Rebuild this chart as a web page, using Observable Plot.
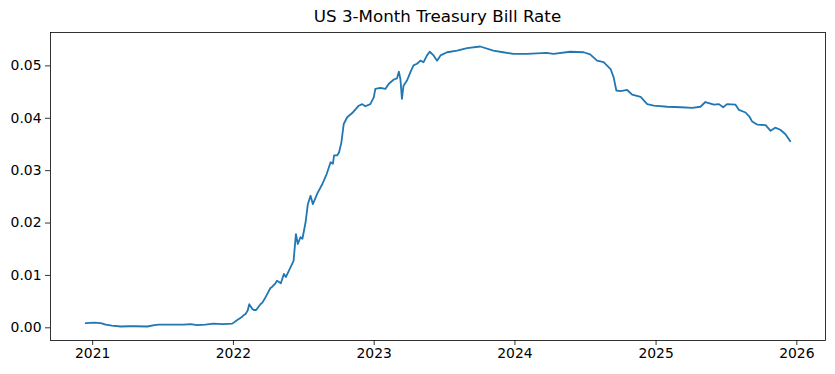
<!DOCTYPE html>
<html>
<head>
<meta charset="utf-8">
<script src="https://cdn.jsdelivr.net/npm/d3@7"></script>
<script src="https://cdn.jsdelivr.net/npm/@observablehq/plot@0.6"></script>
<style>
  html, body { margin: 0; padding: 0; background: #fff; }
  #wrap { width: 835px; height: 374px; position: relative; font-family: "DejaVu Sans", sans-serif; }
  #title { position: absolute; left: 50px; width: 775px; top: 6px; text-align: center; font-size: 16.7px; color: #000; line-height: 20px; }
  #chart { position: absolute; left: 0; top: 28px; }
</style>
</head>
<body>
<div id="wrap">
  <div id="title">US 3-Month Treasury Bill Rate</div>
  <div id="chart"></div>
</div>
<script>
const dates = [
  "2020-12-14","2021-01-05","2021-01-22","2021-02-04","2021-02-20","2021-03-15","2021-04-05","2021-04-22","2021-05-23",
  "2021-06-10","2021-06-21","2021-07-15","2021-08-04","2021-08-25","2021-09-12","2021-09-29","2021-10-20","2021-11-10",
  "2021-12-05","2021-12-29","2022-01-11","2022-01-22","2022-01-27","2022-02-01","2022-02-07","2022-02-11","2022-02-19",
  "2022-02-23","2022-03-01","2022-03-12","2022-03-17","2022-03-25","2022-04-07","2022-04-11","2022-04-20","2022-04-24",
  "2022-05-04","2022-05-12","2022-05-17","2022-05-25","2022-06-06","2022-06-09","2022-06-12","2022-06-17","2022-06-24",
  "2022-06-29","2022-07-07","2022-07-13","2022-07-20","2022-07-26","2022-08-07","2022-08-20","2022-08-31","2022-09-10",
  "2022-09-16","2022-09-19","2022-09-27","2022-10-02","2022-10-08","2022-10-14","2022-10-23","2022-11-05","2022-11-22",
  "2022-12-01","2022-12-09","2022-12-22","2022-12-31","2023-01-04","2023-01-17","2023-01-30","2023-02-08","2023-02-21",
  "2023-03-01","2023-03-06","2023-03-10","2023-03-14","2023-03-18","2023-03-27","2023-04-05","2023-04-13","2023-04-22",
  "2023-05-01","2023-05-09","2023-05-18","2023-05-25","2023-06-04","2023-06-13","2023-06-22","2023-07-09","2023-08-04",
  "2023-08-30","2023-10-03","2023-11-06","2023-12-01","2023-12-28","2024-02-01","2024-03-23","2024-04-10","2024-05-23",
  "2024-06-27","2024-07-14","2024-08-01","2024-08-18","2024-09-05","2024-09-13","2024-09-20","2024-10-01","2024-10-18",
  "2024-10-31","2024-11-22","2024-12-09","2024-12-26","2025-01-30","2025-03-06","2025-04-05","2025-04-26","2025-05-09",
  "2025-05-31","2025-06-13","2025-06-24","2025-07-04","2025-07-26","2025-08-04","2025-08-21","2025-09-01","2025-09-07",
  "2025-09-20","2025-10-12","2025-10-25","2025-11-06","2025-11-19","2025-12-02","2025-12-15"
];
const values = [
  0.0009,0.0010,0.0009,0.0006,0.0004,0.00025,0.0003,0.0003,0.00025,
  0.0005,0.0006,0.0006,0.0006,0.0006,0.0007,0.0005,0.0006,0.0008,
  0.0007,0.0008,0.0015,0.0020,0.0024,0.0026,0.0033,0.0045,0.0036,
  0.0034,0.0034,0.0045,0.0048,0.0058,0.0076,0.0078,0.0085,0.0090,
  0.0085,0.0103,0.0097,0.0109,0.0128,0.0153,0.0179,0.0160,0.0173,
  0.0170,0.0201,0.0236,0.0252,0.0236,0.0257,0.0275,0.0294,0.0316,
  0.0313,0.0329,0.0329,0.0335,0.0354,0.0389,0.0402,0.0410,0.0424,
  0.0427,0.0423,0.0427,0.0440,0.0456,0.0458,0.0456,0.0466,0.0474,
  0.0476,0.0489,0.0475,0.0437,0.0462,0.0472,0.0488,0.0501,0.0504,
  0.0510,0.0507,0.0520,0.0527,0.0520,0.0510,0.0520,0.0526,0.0529,
  0.0534,0.0537,0.0529,0.0526,0.0523,0.0523,0.0525,0.0523,0.0527,
  0.0526,0.0522,0.0510,0.0507,0.0494,0.0478,0.0453,0.0452,0.0454,
  0.0445,0.0441,0.0427,0.0424,0.0422,0.0421,0.0420,0.0422,0.0431,
  0.0426,0.0427,0.0421,0.0427,0.0426,0.0416,0.0411,0.0402,0.0394,
  0.0388,0.0387,0.0376,0.0382,0.0378,0.0370,0.0356
];
const yTicks = [0, 0.01, 0.02, 0.03, 0.04, 0.05];
const xTickYears = ["2021","2022","2023","2024","2025","2026"];

const parse = d3.utcParse("%Y-%m-%d");
const data = dates.map((d, i) => ({date: parse(d), value: values[i]}));
const xTicks = xTickYears.map(y => d3.utcParse("%Y")(y));

const [x0, x1] = d3.extent(data, d => d.date);
const xpad = (x1 - x0) * 0.05;
const [y0, y1] = d3.extent(values);
const ypad = (y1 - y0) * 0.05;

const chart = Plot.plot({
  width: 835,
  height: 346,
  marginLeft: 50,
  marginRight: 10,
  marginTop: 4,
  marginBottom: 34,
  style: {fontFamily: "DejaVu Sans, sans-serif", fontSize: "13.9px", color: "#000", background: "#fff"},
  x: {type: "utc", domain: [new Date(+x0 - xpad), new Date(+x1 + xpad)]},
  y: {domain: [y0 - ypad, y1 + ypad]},
  marks: [
    Plot.axisX({ticks: xTicks, tickFormat: d3.utcFormat("%Y"), tickSize: 5, tickPadding: 3, label: null, stroke: "#000", strokeWidth: 0.8, color: "#000"}),
    Plot.axisY({ticks: yTicks, tickFormat: d3.format(".2f"), tickSize: 5, tickPadding: 4, label: null, stroke: "#000", strokeWidth: 0.8, color: "#000"}),
    Plot.lineY(data, {x: "date", y: "value", stroke: "#1f77b4", strokeWidth: 1.8, strokeLinejoin: "round"}),
    Plot.frame({stroke: "#000", strokeWidth: 0.8})
  ]
});
document.getElementById("chart").appendChild(chart);
</script>
</body>
</html>
